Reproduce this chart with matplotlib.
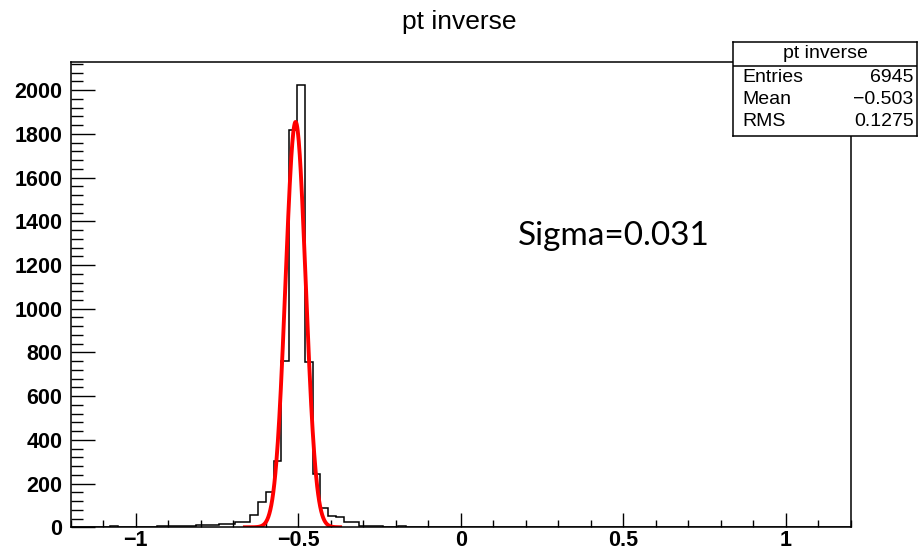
import numpy as np
import matplotlib
matplotlib.use("Agg")
import matplotlib.pyplot as plt
from matplotlib.ticker import MultipleLocator, FuncFormatter

# histogram "pt inverse": 100 bins from -1.2 to 1.2
x_low = -1.2
x_high = 1.2
counts = [
    0, 0, 0, 0, 0, 5, 0, 0, 0, 0,
    0, 8, 6, 6, 8, 8, 10, 12, 12, 14,
    17, 22, 24, 55, 116, 162, 305, 760, 1820, 2025,
    758, 246, 90, 50, 48, 24, 24, 5, 5, 5,
    0, 0, 5, 0, 0, 0, 0, 0, 0, 0,
    0, 0, 0, 0, 0, 0, 0, 0, 0, 0,
    0, 0, 0, 0, 0, 0, 0, 0, 0, 0,
    0, 0, 0, 0, 0, 0, 0, 0, 0, 0,
    0, 0, 0, 0, 0, 0, 0, 0, 0, 0,
    0, 0, 0, 0, 0, 0, 0, 0, 0, 0,
]

# gaussian fit
fit_const = 1855
fit_mean = -0.508
fit_sigma = 0.031
fit_lo = -0.67
fit_hi = -0.365

stat_names = ["Entries", "Mean", "RMS"]
stat_values = ["6945", "\u22120.503", "0.1275"]
sigma_label = "Sigma=0.031"

W, H = 918, 550
fig = plt.figure(figsize=(W / 100, H / 100), dpi=100)
ax = fig.add_axes([70.7 / W, 1 - 527.3 / H, 780 / W, 465.3 / H])

edges = np.linspace(x_low, x_high, len(counts) + 1)
ax.stairs(counts, edges, color="black", lw=1.1)

xf = np.linspace(fit_lo, fit_hi, 200)
yf = fit_const * np.exp(-0.5 * ((xf - fit_mean) / fit_sigma) ** 2)
ax.plot(xf, yf, color="red", lw=2.8, solid_capstyle="butt")

ax.set_xlim(x_low, x_high)
ax.set_ylim(0, 2129)
ax.xaxis.set_major_locator(MultipleLocator(0.5))
ax.xaxis.set_minor_locator(MultipleLocator(0.1))
ax.yaxis.set_major_locator(MultipleLocator(200))
ax.yaxis.set_minor_locator(MultipleLocator(40))
ax.xaxis.set_major_formatter(FuncFormatter(lambda v, p: ("%g" % v).replace("-", "\u2212")))

ax.tick_params(which="both", direction="in", top=False, right=False, width=1.0)
ax.tick_params(axis="y", which="major", length=17, pad=6)
ax.tick_params(axis="y", which="minor", length=8.5)
ax.tick_params(axis="x", which="major", length=10, pad=2)
ax.tick_params(axis="x", which="minor", length=5)
for lab in ax.get_xticklabels() + ax.get_yticklabels():
    lab.set_family("Liberation Sans")
    lab.set_fontweight("bold")
    lab.set_fontsize(15.5)
for sp in ax.spines.values():
    sp.set_linewidth(1.1)

fig.text(459 / W, 1 - 22 / H, "pt inverse", ha="center", va="center",
         fontsize=19, family="Liberation Sans")

# stats box
bx = fig.add_axes([732.7 / W, 1 - 136 / H, (917.3 - 732.7) / W, (136 - 41.7) / H])
bx.set_xlim(0, 1)
bx.set_ylim(0, 1)
bx.set_xticks([])
bx.set_yticks([])
bx.set_facecolor("white")
for sp in bx.spines.values():
    sp.set_linewidth(1.1)
sep = (136 - 66) / (136 - 41.7)
bx.axhline(sep, color="black", lw=1.1)
bx.text(0.5, (sep + 1) / 2, "pt inverse", ha="center", va="center",
        fontsize=14, family="Liberation Sans")
row_y = [(136 - 78) / 94.3, (136 - 100) / 94.3, (136 - 121.5) / 94.3]
for name, val, yy in zip(stat_names, stat_values, row_y):
    bx.text(0.05, yy, name, ha="left", va="center", fontsize=14, family="Liberation Sans")
    bx.text(0.98, yy, val, ha="right", va="center", fontsize=14, family="Liberation Sans")

fig.text(518 / W, 1 - 245 / H, sigma_label, ha="left", va="baseline",
         fontsize=24, family="Lato")

fig.savefig("out.png", dpi=100)
